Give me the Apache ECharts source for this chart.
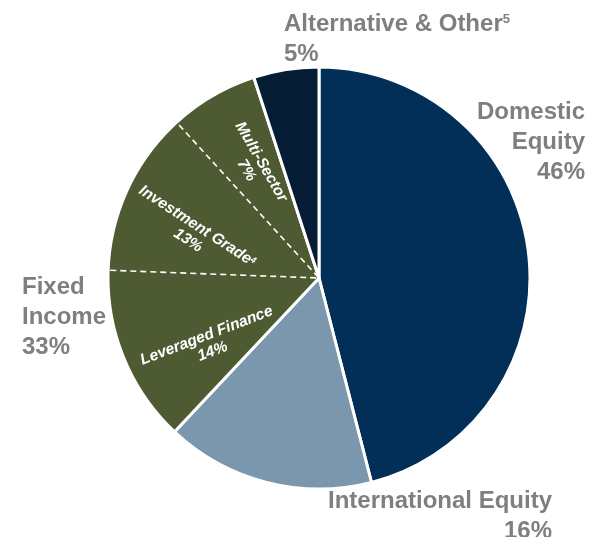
<!DOCTYPE html>
<html>
<head>
<meta charset="utf-8">
<script src="https://cdn.jsdelivr.net/npm/echarts@6/dist/echarts.min.js"></script>
<style>
  html, body { margin: 0; padding: 0; background: #ffffff; }
  #chart { width: 590px; height: 537px; }
</style>
</head>
<body>
<div id="chart"></div>
<script>
// Overall asset allocation (percent of portfolio)
const allocNames = ['Domestic\nEquity', 'International Equity', 'Fixed\nIncome', 'Alternative & Other\u2075'];
const allocValues = [46, 16, 33, 5];

// Breakdown of the fixed income sleeve (percent of portfolio)
const fixedNames = ['Leveraged Finance', 'Investment Grade\u2074', 'Multi-Sector'];
const fixedValues = [14, 13, 7];

const allocColors = ['#012f57', '#7a97ad', '#4e5a31', '#051d34'];
const FONT = '"Liberation Sans", Arial, Helvetica, sans-serif';
const CENTER = [319, 278];
const R = 211;

// where each outer label block sits (x, y of its anchor)
const outerLabelPos = [
  { x: 585, y: 142, align: 'right' },
  { x: 552, y: 516, align: 'right' },
  { x: 22, y: 317, align: 'left' },
  { x: 284, y: 39, align: 'left' }
];

// text angle and small nudge for each fixed income label
const fixedLabelStyle = [
  { rotate: 21, dx: 4, dy: 19 },
  { rotate: -33, dx: -2, dy: 13 },
  { rotate: -60, dx: 0, dy: 0 }
];

// footnote markers are drawn as raised small digits
const SUPERSCRIPTS = { '\u2074': '4', '\u2075': '5' };
const withSup = s => s.replace(/[\u2074\u2075]/g, c => '{sup|' + SUPERSCRIPTS[c] + '}');

// angular span of the fixed income slice, in ECharts degrees
const sum = a => a.reduce((s, v) => s + v, 0);
const total = sum(allocValues);
const fiIndex = 2;
const fiStart = 90 - 360 * sum(allocValues.slice(0, fiIndex)) / total;
const fiEnd = fiStart - 360 * allocValues[fiIndex] / total;

const chart = echarts.init(document.getElementById('chart'), null, { renderer: 'canvas' });

chart.setOption({
  backgroundColor: '#ffffff',
  animation: false,
  series: [
    {
      name: 'Allocation',
      type: 'pie',
      center: CENTER,
      radius: [0, R],
      startAngle: 90,
      clockwise: true,
      avoidLabelOverlap: false,
      silent: true,
      emphasis: { disabled: true },
      itemStyle: { borderColor: '#ffffff', borderWidth: 3 },
      data: allocNames.map((n, i) => ({
        name: n,
        value: allocValues[i],
        itemStyle: { color: allocColors[i] }
      })),
      label: {
        show: true,
        position: 'outside',
        formatter: p => withSup(p.name) + '\n' + p.value + '%',
        color: '#7f7f7f',
        fontFamily: FONT,
        fontWeight: 'bold',
        fontSize: 24,
        lineHeight: 30,
        rich: {
          sup: {
            color: '#7f7f7f',
            fontFamily: FONT,
            fontWeight: 'bold',
            fontSize: 13,
            padding: [4, 0, 0, 0],
            verticalAlign: 'top'
          }
        }
      },
      labelLine: { show: false },
      labelLayout: function (params) {
        const p = outerLabelPos[params.dataIndex];
        return { x: p.x, y: p.y, align: p.align, verticalAlign: 'middle' };
      }
    },
    {
      // dashed dividers inside the fixed income slice: only the middle
      // sector is stroked, its two straight edges are the dividers
      name: 'Fixed income dividers',
      type: 'pie',
      center: CENTER,
      radius: [0, R + 5],
      startAngle: fiStart,
      endAngle: fiEnd,
      clockwise: true,
      silent: true,
      emphasis: { disabled: true },
      label: { show: false },
      labelLine: { show: false },
      data: fixedNames.map((n, i) => ({
        name: n,
        value: fixedValues[i],
        itemStyle: i === 1
          ? { color: 'rgba(0,0,0,0)', borderColor: '#ffffff', borderWidth: 1.6, borderType: [6, 4] }
          : { color: 'rgba(0,0,0,0)', borderWidth: 0 }
      }))
    },
    {
      // rotated labels for the fixed income breakdown
      name: 'Fixed income labels',
      type: 'pie',
      center: CENTER,
      radius: [R * 0.2, R],
      startAngle: fiStart,
      endAngle: fiEnd,
      clockwise: true,
      silent: true,
      emphasis: { disabled: true },
      itemStyle: { color: 'rgba(0,0,0,0)', borderWidth: 0 },
      label: {
        show: true,
        position: 'inside',
        formatter: p => withSup(p.name) + '\n' + p.value + '%',
        color: '#ffffff',
        fontFamily: FONT,
        fontWeight: 'bold',
        fontStyle: 'italic',
        fontSize: 15.5,
        lineHeight: 17,
        rich: {
          sup: {
            color: '#ffffff',
            fontFamily: FONT,
            fontWeight: 'bold',
            fontStyle: 'italic',
            fontSize: 9,
            padding: [2, 0, 0, 0],
            verticalAlign: 'top'
          }
        }
      },
      labelLine: { show: false },
      labelLayout: function (params) {
        const s = fixedLabelStyle[params.dataIndex];
        return { rotate: s.rotate, dx: s.dx, dy: s.dy };
      },
      data: fixedNames.map((n, i) => ({ name: n, value: fixedValues[i] }))
    }
  ]
});
</script>
</body>
</html>
